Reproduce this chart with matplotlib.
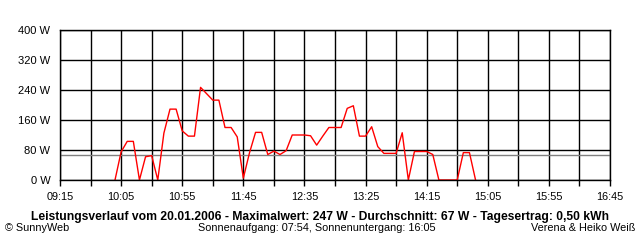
import matplotlib
matplotlib.use("Agg")
import matplotlib.pyplot as plt
from matplotlib.ticker import FixedLocator, FuncFormatter, MultipleLocator

# ---- data ----
times = ["10:00", "10:05", "10:10", "10:15", "10:20", "10:25", "10:30", "10:35", "10:40", "10:45",
         "10:50", "10:55", "11:00", "11:05", "11:10", "11:15", "11:20", "11:25", "11:30", "11:35",
         "11:40", "11:45", "11:50", "11:55", "12:00", "12:05", "12:10", "12:15", "12:20", "12:25",
         "12:30", "12:35", "12:40", "12:45", "12:50", "12:55", "13:00", "13:05", "13:10", "13:15",
         "13:20", "13:25", "13:30", "13:35", "13:40", "13:45", "13:50", "13:55", "14:00", "14:05",
         "14:10", "14:15", "14:20", "14:25", "14:30", "14:35", "14:40", "14:45", "14:50", "14:55"]
power_w = [0, 75, 103, 103, 0, 62, 65, 0, 125, 189,
           189, 131, 117, 117, 247, 230, 213, 213, 140, 140,
           115, 5, 72, 127, 127, 68, 77, 68, 78, 120,
           120, 120, 118, 93, 117, 140, 140, 140, 191, 198,
           117, 117, 142, 89, 71, 71, 71, 126, 0, 76,
           76, 76, 68, 0, 0, 0, 0, 73, 73, 0]
average_w = 67
x_start, x_end = "09:15", "16:45"
label_step_min = 50
grid_step_min = 25
y_max = 400

title_text = ("Leistungsverlauf vom 20.01.2006 - Maximalwert: 247 W - "
              "Durchschnitt: 67 W - Tagesertrag: 0,50 kWh")
left_note = "\u00a9 SunnyWeb"
center_note = "Sonnenaufgang: 07:54, Sonnenuntergang: 16:05"
right_note = "Verena & Heiko Wei\u00df"


def to_min(s):
    h, m = s.split(":")
    return int(h) * 60 + int(m)


xs = [to_min(t) for t in times]
x0, x1 = to_min(x_start), to_min(x_end)

plt.rcParams['font.family'] = ['Liberation Sans', 'DejaVu Sans']

W, H = 640, 240
fig = plt.figure(figsize=(W / 100, H / 100), dpi=100)
ax = fig.add_axes([60 / W, 1 - 180 / H, 550 / W, 150 / H])

ax.set_xlim(x0, x1)
ax.set_ylim(0, y_max)

ax.xaxis.set_major_locator(FixedLocator(list(range(x0, x1 + 1, label_step_min))))
ax.xaxis.set_minor_locator(FixedLocator(list(range(x0, x1 + 1, grid_step_min))))
ax.xaxis.set_major_formatter(FuncFormatter(lambda v, p: f"{int(round(v))//60:02d}:{int(round(v))%60:02d}"))
ax.yaxis.set_major_locator(MultipleLocator(80))
ax.yaxis.set_major_formatter(FuncFormatter(lambda v, p: f"{int(v)} W"))

ax.grid(True, which='both', axis='x', color='black', linewidth=1.0)
ax.grid(True, which='major', axis='y', color='black', linewidth=1.0)
ax.set_axisbelow(True)

ax.tick_params(axis='x', which='both', direction='out', length=4, width=1.0, color='black',
               labelsize=7.8, pad=4.5)
ax.tick_params(axis='y', which='both', length=0, labelsize=8, pad=7)

for sp in ax.spines.values():
    sp.set_color('black')
    sp.set_linewidth(1.0)
    sp.set_zorder(3)

ax.axhline(average_w, color='#808080', linewidth=1.0, zorder=1.5)
ax.plot(xs, power_w, color='#ff0000', linewidth=1.0, zorder=2)

fig.text(320 / W, 1 - 217 / H, title_text, ha='center', va='center',
         fontsize=8.7, fontweight='bold')
fig.text(5 / W, 1 - 228 / H, left_note, ha='left', va='center', fontsize=7.8)
fig.text(317 / W, 1 - 228 / H, center_note, ha='center', va='center', fontsize=7.8)
fig.text(635 / W, 1 - 228 / H, right_note, ha='right', va='center', fontsize=7.8)

fig.savefig("out.png", dpi=100)
